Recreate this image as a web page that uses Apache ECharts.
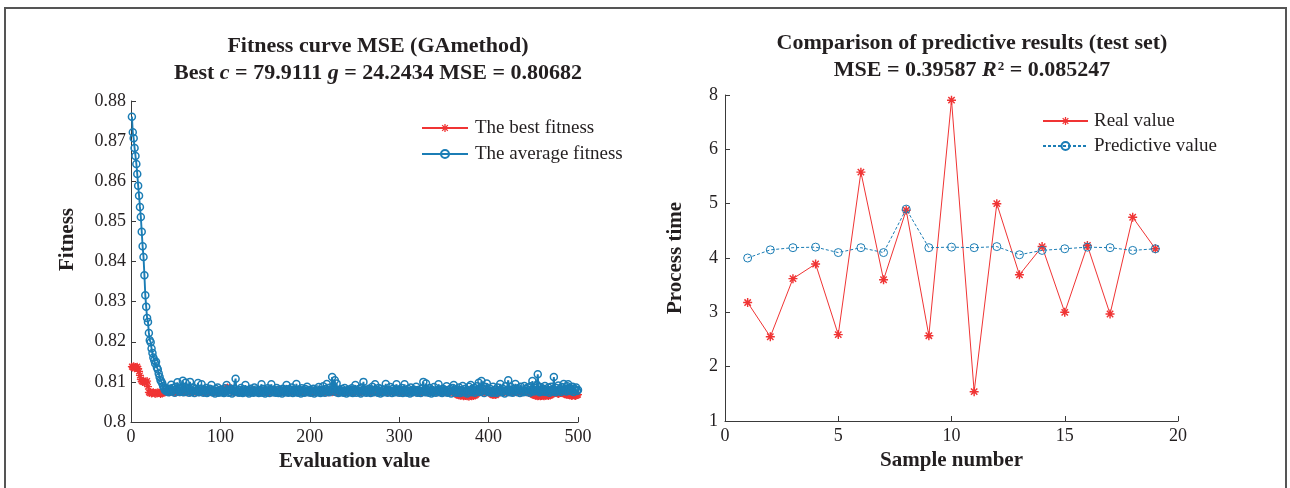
<!DOCTYPE html>
<html><head><meta charset="utf-8">
<script src="https://cdn.jsdelivr.net/npm/echarts@6/dist/echarts.min.js"></script>
<style>html,body{margin:0;padding:0;background:#fff}#c{width:1290px;height:488px}</style>
</head><body><div id="c"></div>
<script>
// ---------- DATA ----------
const evalTicks = [0, 100, 200, 300, 400, 500];
const fitnessTicks = [0.8, 0.81, 0.82, 0.83, 0.84, 0.85, 0.86, 0.87, 0.88];

// average fitness per evaluation (1..500)
const avgFitness = [
0.8761,0.8722,0.8707,0.8683,0.8663,0.8643,0.8618,0.8589,0.8564,0.8536,0.8511,0.8474,0.8438,0.8411,0.8366,
0.8316,0.8287,0.8259,0.8249,0.8222,0.8204,0.8199,0.8183,0.8172,0.8161,0.8154,0.8146,0.8150,0.8136,0.8131,0.8121,0.8112,0.8104,0.8101,0.8096,
0.8089,0.8085,0.8079,0.8082,0.8076,
0.8078,0.8074,0.8083,0.8080,0.8093,0.8076,0.8085,0.8079,0.8073,0.8088,0.8081,0.8099,0.8077,0.8086,0.8075,0.8082,0.8079,0.8103,0.8074,0.8087,
0.8098,0.8076,0.8084,0.8079,0.8073,0.8100,0.8081,0.8075,0.8086,0.8078,0.8072,0.8083,0.8077,0.8080,0.8097,0.8074,0.8082,0.8076,0.8094,0.8079,
0.8073,0.8081,0.8077,0.8085,0.8072,0.8079,0.8075,0.8083,0.8078,0.8092,0.8074,0.8080,0.8076,0.8071,0.8082,0.8077,0.8086,0.8073,0.8079,0.8075,
0.8081,0.8074,0.8078,0.8072,0.8084,0.8076,0.8092,0.8079,0.8073,0.8080,0.8075,0.8083,0.8071,0.8078,0.8076,0.8082,0.8108,0.8077,0.8074,0.8080,
0.8073,0.8079,0.8085,0.8076,0.8072,0.8081,0.8075,0.8092,0.8078,0.8074,0.8080,0.8071,0.8077,0.8083,0.8075,0.8079,0.8073,0.8086,0.8076,0.8081,
0.8074,0.8078,0.8072,0.8080,0.8076,0.8094,0.8073,0.8082,0.8077,0.8071,0.8079,0.8075,0.8084,0.8078,0.8072,0.8081,0.8094,0.8076,0.8074,0.8080,
0.8077,0.8073,0.8085,0.8079,0.8072,0.8081,0.8075,0.8078,0.8071,0.8083,0.8076,0.8080,0.8074,0.8092,0.8078,0.8073,0.8082,0.8075,0.8079,0.8086,
0.8072,0.8080,0.8076,0.8074,0.8095,0.8078,0.8073,0.8081,0.8077,0.8071,0.8084,0.8075,0.8079,0.8073,0.8082,0.8076,0.8088,0.8074,0.8080,0.8077,
0.8073,0.8079,0.8075,0.8083,0.8071,0.8078,0.8076,0.8081,0.8074,0.8087,0.8077,0.8072,0.8080,0.8075,0.8089,0.8078,0.8073,0.8082,0.8095,0.8076,
0.8079,0.8074,0.8086,0.8081,0.8112,0.8077,0.8083,0.8104,0.8075,0.8096,0.8079,0.8072,0.8080,0.8076,0.8074,0.8082,0.8078,0.8073,0.8085,0.8077,
0.8071,0.8079,0.8075,0.8081,0.8074,0.8078,0.8084,0.8072,0.8080,0.8076,0.8092,0.8073,0.8079,0.8077,0.8082,0.8075,0.8071,0.8086,0.8078,0.8100,
0.8076,0.8080,0.8073,0.8079,0.8075,0.8083,0.8077,0.8072,0.8081,0.8088,0.8074,0.8078,0.8094,0.8076,0.8080,0.8073,0.8085,0.8077,0.8071,0.8082,
0.8075,0.8079,0.8074,0.8081,0.8095,0.8077,0.8073,0.8080,0.8076,0.8087,0.8078,0.8072,0.8083,0.8075,0.8079,0.8074,0.8094,0.8077,0.8081,0.8073,
0.8078,0.8076,0.8085,0.8072,0.8080,0.8094,0.8075,0.8079,0.8073,0.8082,0.8077,0.8071,0.8086,0.8078,0.8074,0.8081,0.8076,0.8079,0.8088,0.8073,
0.8080,0.8075,0.8078,0.8072,0.8083,0.8077,0.8100,0.8079,0.8074,0.8096,0.8081,0.8076,0.8073,0.8085,0.8078,0.8071,0.8080,0.8075,0.8087,0.8077,
0.8073,0.8079,0.8076,0.8094,0.8081,0.8074,0.8078,0.8072,0.8083,0.8077,0.8080,0.8075,0.8089,0.8073,0.8079,0.8076,0.8082,0.8071,0.8078,0.8085,
0.8092,0.8075,0.8079,0.8073,0.8081,0.8077,0.8086,0.8072,0.8080,0.8076,0.8090,0.8074,0.8078,0.8083,0.8075,0.8071,0.8079,0.8088,0.8077,0.8092,
0.8074,0.8080,0.8076,0.8085,0.8073,0.8079,0.8089,0.8081,0.8098,0.8075,0.8078,0.8102,0.8077,0.8083,0.8072,0.8080,0.8087,0.8096,0.8076,0.8079,
0.8074,0.8082,0.8077,0.8073,0.8088,0.8079,0.8075,0.8081,0.8072,0.8086,0.8078,0.8076,0.8095,0.8080,0.8074,0.8083,0.8077,0.8071,0.8089,0.8079,
0.8076,0.8104,0.8081,0.8074,0.8087,0.8078,0.8073,0.8082,0.8077,0.8095,0.8080,0.8075,0.8084,0.8079,0.8072,0.8088,0.8076,0.8081,0.8074,0.8090,
0.8078,0.8083,0.8075,0.8086,0.8080,0.8073,0.8089,0.8077,0.8102,0.8081,0.8076,0.8085,0.8079,0.8093,0.8119,0.8078,0.8074,0.8087,0.8080,0.8076,
0.8083,0.8077,0.8090,0.8075,0.8081,0.8079,0.8086,0.8073,0.8080,0.8088,0.8076,0.8082,0.8112,0.8078,0.8074,0.8085,0.8079,0.8091,0.8077,0.8081,
0.8075,0.8087,0.8080,0.8095,0.8078,0.8083,0.8076,0.8089,0.8094,0.8079,0.8085,0.8077,0.8081,0.8088,0.8075,0.8083,0.8079,0.8086,0.8077,0.8080
];

// best fitness per evaluation (1..500)
const bestFitness = [
0.8138,0.8136,0.8139,0.8134,0.8137,0.8135,0.8138,0.8133,0.8126,0.8116,0.8106,0.8102,0.8100,0.8103,0.8099,0.8101,0.8098,0.8102,0.8088,0.8074,
0.8072,0.8075,0.8071,0.8073,0.8074,0.8072,0.8070,0.8073,0.8071,0.8074,0.8072,0.8073,0.8070,0.8072,0.8071,0.8073,0.8075,0.8074,0.8076,0.8075,
0.8075,0.8076,0.8074,0.8075,0.8077,0.8075,0.8074,0.8076,0.8075,0.8074,0.8076,0.8075,0.8077,0.8074,0.8075,0.8076,0.8075,0.8074,0.8076,0.8075,
0.8076,0.8074,0.8075,0.8077,0.8075,0.8074,0.8076,0.8075,0.8074,0.8075,0.8077,0.8076,0.8074,0.8075,0.8076,0.8074,0.8075,0.8077,0.8075,0.8076,
0.8075,0.8077,0.8074,0.8076,0.8075,0.8074,0.8076,0.8077,0.8075,0.8074,0.8076,0.8075,0.8074,0.8077,0.8075,0.8076,0.8074,0.8075,0.8076,0.8075,
0.8075,0.8074,0.8076,0.8075,0.8076,0.8080,0.8084,0.8086,0.8083,0.8085,0.8082,0.8084,0.8079,0.8076,0.8075,0.8074,0.8076,0.8075,0.8074,0.8076,
0.8074,0.8076,0.8075,0.8077,0.8074,0.8075,0.8076,0.8074,0.8075,0.8077,0.8076,0.8075,0.8074,0.8076,0.8075,0.8077,0.8074,0.8075,0.8076,0.8075,
0.8076,0.8075,0.8074,0.8076,0.8077,0.8075,0.8074,0.8076,0.8075,0.8074,0.8075,0.8077,0.8076,0.8074,0.8075,0.8076,0.8075,0.8077,0.8074,0.8075,
0.8075,0.8076,0.8074,0.8075,0.8077,0.8076,0.8075,0.8074,0.8076,0.8075,0.8077,0.8074,0.8075,0.8076,0.8074,0.8075,0.8077,0.8075,0.8076,0.8074,
0.8076,0.8074,0.8075,0.8077,0.8075,0.8076,0.8074,0.8075,0.8076,0.8077,0.8075,0.8074,0.8076,0.8075,0.8074,0.8077,0.8076,0.8075,0.8074,0.8076,
0.8075,0.8077,0.8076,0.8074,0.8075,0.8076,0.8074,0.8077,0.8075,0.8076,0.8074,0.8075,0.8077,0.8076,0.8075,0.8074,0.8076,0.8075,0.8077,0.8074,
0.8074,0.8076,0.8075,0.8077,0.8074,0.8075,0.8076,0.8075,0.8074,0.8077,0.8076,0.8075,0.8074,0.8076,0.8077,0.8075,0.8074,0.8076,0.8075,0.8076,
0.8077,0.8075,0.8074,0.8076,0.8075,0.8077,0.8074,0.8075,0.8076,0.8074,0.8075,0.8077,0.8076,0.8074,0.8075,0.8076,0.8077,0.8074,0.8076,0.8075,
0.8075,0.8076,0.8077,0.8074,0.8075,0.8076,0.8075,0.8074,0.8077,0.8075,0.8076,0.8074,0.8075,0.8077,0.8076,0.8075,0.8074,0.8076,0.8075,0.8077,
0.8076,0.8074,0.8075,0.8076,0.8077,0.8075,0.8074,0.8076,0.8075,0.8074,0.8077,0.8076,0.8075,0.8074,0.8076,0.8075,0.8077,0.8074,0.8075,0.8076,
0.8074,0.8077,0.8075,0.8076,0.8074,0.8075,0.8077,0.8076,0.8074,0.8075,0.8076,0.8074,0.8077,0.8075,0.8076,0.8074,0.8075,0.8077,0.8076,0.8075,
0.8075,0.8074,0.8076,0.8077,0.8075,0.8074,0.8076,0.8075,0.8077,0.8074,0.8075,0.8076,0.8074,0.8077,0.8075,0.8076,0.8075,0.8074,0.8077,0.8076,
0.8076,0.8075,0.8077,0.8074,0.8076,0.8075,0.8074,0.8077,0.8075,0.8076,0.8074,0.8075,0.8077,0.8076,0.8074,0.8075,0.8076,0.8077,0.8075,0.8074,
0.8075,0.8073,0.8071,0.8069,0.8068,0.8067,0.8066,0.8068,0.8065,0.8067,0.8066,0.8064,0.8066,0.8065,0.8067,0.8064,0.8065,0.8063,0.8066,0.8065,
0.8064,0.8066,0.8065,0.8067,0.8066,0.8068,0.8071,0.8073,0.8075,0.8074,0.8076,0.8075,0.8074,0.8076,0.8075,0.8077,0.8075,0.8074,0.8076,0.8075,
0.8074,0.8072,0.8070,0.8068,0.8067,0.8069,0.8068,0.8067,0.8069,0.8071,0.8073,0.8075,0.8074,0.8076,0.8075,0.8074,0.8076,0.8075,0.8077,0.8075,
0.8076,0.8074,0.8075,0.8077,0.8075,0.8076,0.8074,0.8075,0.8077,0.8076,0.8074,0.8075,0.8076,0.8074,0.8077,0.8075,0.8076,0.8074,0.8075,0.8076,
0.8075,0.8074,0.8076,0.8075,0.8074,0.8073,0.8071,0.8070,0.8069,0.8068,0.8067,0.8066,0.8065,0.8066,0.8064,0.8065,0.8066,0.8064,0.8065,0.8066,
0.8065,0.8064,0.8066,0.8065,0.8067,0.8066,0.8065,0.8067,0.8066,0.8068,0.8069,0.8071,0.8073,0.8075,0.8074,0.8073,0.8071,0.8070,0.8071,0.8072,
0.8073,0.8074,0.8072,0.8071,0.8069,0.8070,0.8068,0.8069,0.8067,0.8068,0.8066,0.8067,0.8065,0.8066,0.8067,0.8066,0.8065,0.8066,0.8067,0.8068
];

// right chart
const sampleNumbers = [1,2,3,4,5,6,7,8,9,10,11,12,13,14,15,16,17,18,19];
const realValue = [3.18,2.55,3.62,3.89,2.59,5.58,3.60,4.88,2.57,7.81,1.54,5.00,3.69,4.21,3.00,4.23,2.97,4.75,4.17];
const predictiveValue = [4.00,4.15,4.19,4.20,4.10,4.19,4.10,4.90,4.19,4.20,4.19,4.21,4.06,4.14,4.17,4.20,4.19,4.14,4.17];
const sampleTicks = [0, 5, 10, 15, 20];
const processTimeTicks = [1, 2, 3, 4, 5, 6, 8];   // the reference's (uneven) y tick labels

// ---------- STYLE ----------
const FONT = '"Liberation Serif", "DejaVu Serif", serif';
const INK = '#231f20';
const RED = '#f03434';
const BLUE = '#1b7db5';
const AXIS = '#3a3a3a';
const ASTERISK = 'path://M-1.6,-10L1.6,-10L1.6,10L-1.6,10Z M-10,-1.6L10,-1.6L10,1.6L-10,1.6Z M-8.2,-5.94L-5.94,-8.2L8.2,5.94L5.94,8.2Z M-5.94,8.2L-8.2,5.94L5.94,-8.2L8.2,-5.94Z';

// the right y axis is drawn with evenly spaced tick labels 1,2,3,4,5,6,8 (as in the reference)
function tickPos(v) {
  const t = processTimeTicks;
  for (let i = 0; i < t.length - 1; i++) {
    if (v <= t[i + 1]) return i + (v - t[i]) / (t[i + 1] - t[i]);
  }
  return t.length - 1;
}

const tickLabel = {fontFamily: FONT, fontSize: 18, color: INK};
const nameStyle = {fontFamily: FONT, fontSize: 21, fontWeight: 'bold', color: INK};
const axisLine = {show: true, lineStyle: {color: AXIS, width: 1}};
const axisTick = {show: true, inside: true, length: 5, lineStyle: {color: AXIS, width: 1}};

const chart = echarts.init(document.getElementById('c'), null, {renderer: 'canvas'});
const titleRich = {
  b: {fontFamily: FONT, fontSize: 22, fontWeight: 'bold', color: INK, lineHeight: 27},
  i: {fontFamily: FONT, fontSize: 22, fontWeight: 'bold', fontStyle: 'italic', color: INK, lineHeight: 27},
  sup: {fontFamily: FONT, fontSize: 13, fontWeight: 'bold', color: INK, verticalAlign: 'top', lineHeight: 13, padding: [3, 0, 0, 1]}
};
chart.setOption({
  animation: false,
  backgroundColor: '#fff',
  title: [
    {text: '{b|Fitness curve MSE (GAmethod)}\n{b|Best }{i|c}{b| = 79.9111 }{i|g}{b| = 24.2434 MSE = 0.80682}',
     left: 378, top: 33, textAlign: 'center', padding: 0,
     textStyle: {rich: titleRich, fontFamily: FONT, fontSize: 22, lineHeight: 27}},
    {text: '{b|Comparison of predictive results (test set)}\n{b|MSE = 0.39587 }{i|R}{sup|2}{b| = 0.085247}',
     left: 972, top: 30, textAlign: 'center', padding: 0,
     textStyle: {rich: titleRich, fontFamily: FONT, fontSize: 22, lineHeight: 27}}
  ],
  legend: [
    {data: ['The best fitness', 'The average fitness'], orient: 'vertical', left: 421, top: 118,
     itemWidth: 46, itemHeight: 10, itemGap: 6, padding: 0, selectedMode: false,
     textStyle: {fontFamily: FONT, fontSize: 19, color: INK, lineHeight: 20, padding: [0, 0, 0, 2]}},
    {data: ['Real value', 'Predictive value'], orient: 'vertical', left: 1042, top: 111,
     itemWidth: 45, itemHeight: 10, itemGap: 5, padding: 0, selectedMode: false,
     textStyle: {fontFamily: FONT, fontSize: 19, color: INK, lineHeight: 20, padding: [0, 0, 0, 1]}}
  ],
  grid: [
    {left: 131, top: 101, width: 447, height: 321, outerBoundsMode: 'none', containLabel: false},
    {left: 725, top: 95, width: 453, height: 326, outerBoundsMode: 'none', containLabel: false}
  ],
  xAxis: [
    {gridIndex: 0, type: 'value', min: evalTicks[0], max: evalTicks[evalTicks.length - 1], interval: 100,
     name: 'Evaluation value', nameLocation: 'middle', nameGap: 27, nameTextStyle: nameStyle,
     axisLine, axisTick, splitLine: {show: false}, axisLabel: Object.assign({margin: 6}, tickLabel)},
    {gridIndex: 1, type: 'value', min: sampleTicks[0], max: sampleTicks[sampleTicks.length - 1], interval: 5,
     name: 'Sample number', nameLocation: 'middle', nameGap: 27, nameTextStyle: nameStyle,
     axisLine, axisTick, splitLine: {show: false}, axisLabel: Object.assign({margin: 6}, tickLabel)}
  ],
  yAxis: [
    {gridIndex: 0, type: 'value', min: fitnessTicks[0], max: fitnessTicks[fitnessTicks.length - 1], interval: 0.01,
     name: 'Fitness', nameLocation: 'middle', nameGap: 53,
     nameTextStyle: Object.assign({padding: [0, 0, 0, 44]}, nameStyle),
     axisLine, axisTick, splitLine: {show: false}, axisLabel: Object.assign({margin: 5}, tickLabel)},
    {gridIndex: 1, type: 'value', min: 0, max: processTimeTicks.length - 1, interval: 1,
     name: 'Process time', nameLocation: 'middle', nameGap: 39, nameTextStyle: nameStyle,
     axisLine, axisTick, splitLine: {show: false},
     axisLabel: Object.assign({margin: 7, formatter: v => String(processTimeTicks[Math.round(v)])}, tickLabel)}
  ],
  series: [
    {name: 'The best fitness', type: 'line', xAxisIndex: 0, yAxisIndex: 0,
     data: bestFitness.map((v, i) => [i + 1, v]),
     symbol: ASTERISK, symbolSize: 8, clip: false, silent: true, legendHoverLink: false,
     lineStyle: {color: RED, width: 1}, itemStyle: {color: RED}, z: 2},
    {name: 'The average fitness', type: 'line', xAxisIndex: 0, yAxisIndex: 0,
     data: avgFitness.map((v, i) => [i + 1, v]),
     symbol: 'circle', symbolSize: 7, clip: false, silent: true, legendHoverLink: false,
     lineStyle: {color: BLUE, width: 1.9}, itemStyle: {color: 'rgba(0,0,0,0)', borderColor: BLUE, borderWidth: 1.5}, z: 3},
    {name: 'Real value', type: 'line', xAxisIndex: 1, yAxisIndex: 1,
     data: sampleNumbers.map((s, i) => [s, tickPos(realValue[i])]),
     symbol: ASTERISK, symbolSize: 9, clip: false, silent: true, legendHoverLink: false,
     lineStyle: {color: RED, width: 1}, itemStyle: {color: RED}, z: 2},
    {name: 'Predictive value', type: 'line', xAxisIndex: 1, yAxisIndex: 1,
     data: sampleNumbers.map((s, i) => [s, tickPos(predictiveValue[i])]),
     symbol: 'circle', symbolSize: 8, clip: false, silent: true, legendHoverLink: false,
     lineStyle: {color: BLUE, width: 1, type: [3, 2]},
     itemStyle: {color: 'rgba(0,0,0,0)', borderColor: BLUE, borderWidth: 1}, z: 3}
  ],
  graphic: [
    {type: 'polyline', silent: true, z: 10,
     shape: {points: [[5, 488], [5, 8], [1286, 8], [1286, 488]]},
     style: {stroke: '#555', lineWidth: 2, fill: null}}
  ]
});
</script>
</body></html>
